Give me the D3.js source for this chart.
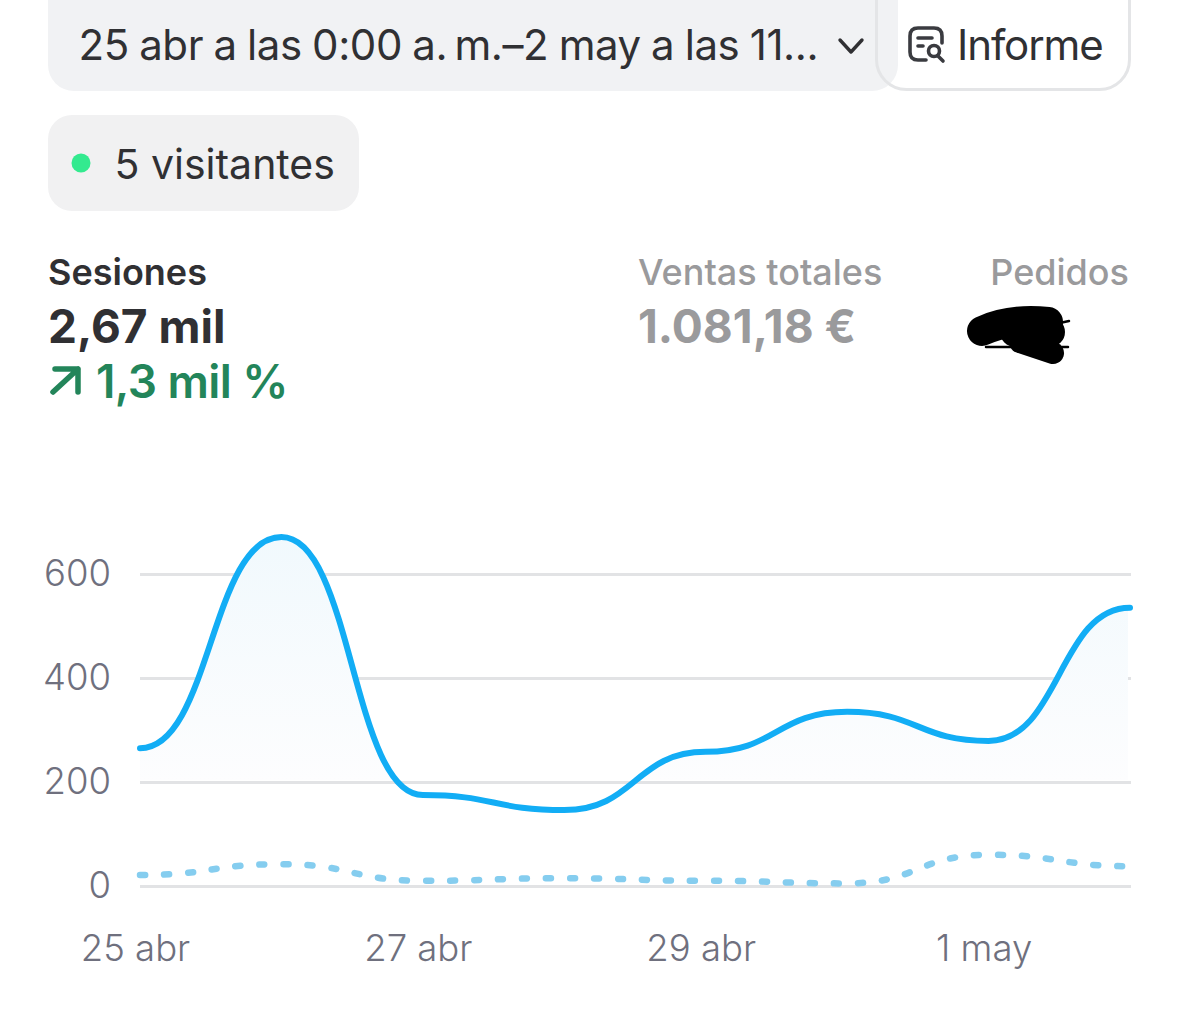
<!DOCTYPE html>
<html><head><meta charset="utf-8">
<style>
html,body{margin:0;padding:0;background:#fff}
svg{display:block}
text{font-family:Inter,"Noto Sans",sans-serif}
.domain{display:none}
</style>
<script src="https://cdn.jsdelivr.net/npm/d3@7"></script>
</head><body><div id="c"></div>
<script>
const days = ["25 abr","26 abr","27 abr","28 abr","29 abr","30 abr","1 may","2 may"];
const sessions = [265,671,175,146,258,335,279,535];
const previous = [21,42,10,15,10,5,60,38];
const yTicks = [0,200,400,600];
const xTicks = ["25 abr","27 abr","29 abr","1 may"];

const W=1179,H=1025;
const svg=d3.select("#c").append("svg").attr("width",W).attr("height",H);
const defs=svg.append("defs");
const g=defs.append("linearGradient").attr("id","fade").attr("gradientUnits","userSpaceOnUse")
  .attr("x1",0).attr("x2",0).attr("y1",537).attr("y2",782);
g.append("stop").attr("offset",0).attr("stop-color","#f1f9fd");
g.append("stop").attr("offset",1).attr("stop-color","#fdfdfe");
const mid=defs.append("clipPath").attr("id","areaClip");
mid.append("rect").attr("x",0).attr("y",0).attr("width",1128).attr("height",780);

const ink="#303033", mute="#9a9a9c", axisCol="#6f707e";
function t(x,y,s,size,weight,fill,anchor){
  return svg.append("text").attr("x",x).attr("y",y).attr("font-size",size).attr("font-weight",weight)
    .attr("fill",fill).attr("text-anchor",anchor||"start").text(s);
}
// header controls
svg.append("rect").attr("x",48).attr("y",-30).attr("width",850).attr("height",121).attr("rx",26).attr("fill","#f1f2f4");
svg.append("rect").attr("x",876.5).attr("y",-30).attr("width",253).attr("height",119.5).attr("rx",30)
  .attr("fill","none").attr("stroke","#e4e5e7").attr("stroke-width",3);
t(78.5,60,"25 abr a las 0:00 a.\u202Fm.–2 may a las 11...",42,400,ink).attr("letter-spacing",-0.42).attr("word-spacing",-1);
svg.append("path").attr("d","M840 40L851 52L862 40").attr("fill","none").attr("stroke",ink).attr("stroke-width",3.4).attr("stroke-linecap","round").attr("stroke-linejoin","round");
// report icon
const ic=svg.append("g").attr("fill","none").attr("stroke","#3a3b40").attr("stroke-width",3.6).attr("stroke-linecap","round");
ic.append("path").attr("d","M926 60H918Q910 60 910 52V36Q910 28 918 28H934Q942 28 942 36V43");
ic.append("path").attr("d","M918 38H932M918 46H923");
ic.append("circle").attr("cx",934).attr("cy",51).attr("r",5.5);
ic.append("path").attr("d","M938 56L943 61");
t(957,60,"Informe",42,400,ink).attr("letter-spacing",-1.1);
// visitors pill
svg.append("rect").attr("x",48).attr("y",115).attr("width",311).attr("height",96).attr("rx",24).attr("fill","#f1f1f2");
svg.append("circle").attr("cx",81).attr("cy",163).attr("r",9.5).attr("fill","#33ea8f");
t(114.5,179,"5 visitantes",41,400,ink);
// metrics
t(48,284.5,"Sesiones",36,600,ink);
t(48,343,"2,67 mil",46,700,ink);
svg.append("path").attr("d","M53 392L78 369M55 369H78V392").attr("fill","none").attr("stroke","#23855a").attr("stroke-width",5.5).attr("stroke-linecap","round").attr("stroke-linejoin","round");
t(96,398,"1,3 mil %",46,600,"#23855a").attr("letter-spacing",-0.6);
t(638,284.5,"Ventas totales",36,500,mute);
t(638,343,"1.081,18 €",46,700,mute);
t(1129,284.5,"Pedidos",36,500,mute,"end");
// redaction scribble
const sc=svg.append("g").attr("fill","none").attr("stroke","#000").attr("stroke-linecap","round");
sc.append("path").attr("d","M982 331Q1010 318 1048 322").attr("stroke-width",30);
sc.append("path").attr("d","M1015 332L1050 332").attr("stroke-width",30);
sc.append("path").attr("d","M1020 342L1053 353").attr("stroke-width",22);
sc.append("path").attr("d","M986 347H1068").attr("stroke-width",2.5);
sc.append("path").attr("d","M1055 324L1069 321").attr("stroke-width",2.5);

// chart
const x=d3.scalePoint().domain(days).range([140,1130]);
const y=d3.scaleLinear().domain([0,600]).range([886,574]);
const area=d3.area().x((d,i)=>x(days[i])).y0(y(0)).y1(d=>y(d)).curve(d3.curveBumpX);
const line=d3.line().x((d,i)=>x(days[i])).y(d=>y(d)).curve(d3.curveBumpX);

const ya=svg.append("g").attr("transform","translate(140,0)")
  .call(d3.axisLeft(y).tickValues(yTicks).tickSize(-991).tickPadding(29));
ya.selectAll("line").attr("stroke","#e2e3e5").attr("stroke-width",3);
ya.selectAll("text").attr("font-size",36.5).attr("font-weight",300).attr("fill",axisCol);

svg.append("path").datum(sessions).attr("d",area).attr("fill","url(#fade)").attr("clip-path","url(#areaClip)");
ya.selectAll("line").clone().attr("stroke-opacity",0.35);

const xa=svg.append("g").attr("transform","translate(-5,937)")
  .call(d3.axisBottom(x).tickValues(xTicks).tickSize(0).tickPadding(0));
xa.selectAll("text").attr("font-size",36.5).attr("font-weight",300).attr("fill",axisCol).attr("dy","0.71em").attr("y",-1.5);

svg.append("path").datum(previous).attr("d",line).attr("fill","none").attr("stroke","#85cdef").attr("stroke-width",6.5)
  .attr("stroke-linecap","round").attr("stroke-dasharray","5 19");
svg.append("path").datum(sessions).attr("d",line).attr("fill","none").attr("stroke","#12adf5").attr("stroke-width",6)
  .attr("stroke-linecap","round");
</script></body></html>
